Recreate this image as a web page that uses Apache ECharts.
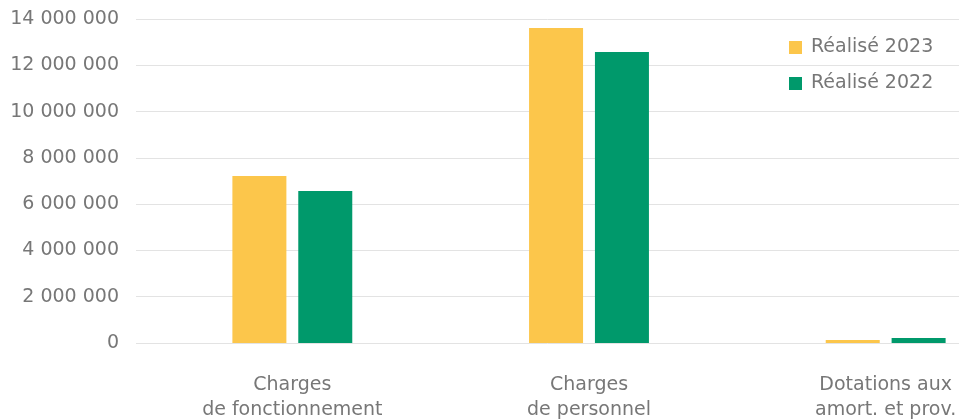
<!DOCTYPE html>
<html>
<head>
<meta charset="utf-8">
<script src="https://cdn.jsdelivr.net/npm/echarts@6/dist/echarts.min.js"></script>
<style>html,body{margin:0;padding:0;background:#fff;}#c{width:966px;height:420px;}</style>
</head>
<body>
<div id="c"></div>
<script>
const categories = ['Charges\nde fonctionnement', 'Charges\nde personnel', 'Dotations aux\namort. et prov.'];
const seriesNames = ['Réalisé 2023', 'Réalisé 2022'];
const values2023 = [7216000, 13610000, 130000];
const values2022 = [6568000, 12570000, 215000];
const yTicks = { min: 0, max: 14000000, interval: 2000000 };

const FONT = 'DejaVu Sans';
const TXT = '#777777';
function fmt(v) { return String(v).replace(/\B(?=(\d{3})+(?!\d))/g, ' '); }

const chart = echarts.init(document.getElementById('c'), null, { renderer: 'canvas' });
chart.setOption({
  animation: false,
  textStyle: { fontFamily: FONT },
  grid: [
    { left: 144, right: -68, top: 19, bottom: 77, containLabel: false, outerBoundsMode: 'none' },
    { left: 136, right: 7, top: 19, bottom: 77, containLabel: false, outerBoundsMode: 'none' }
  ],
  legend: {
    data: seriesNames,
    orient: 'vertical',
    left: 789, top: 38, padding: 0,
    icon: 'rect', itemWidth: 13, itemHeight: 13, itemGap: 17,
    textStyle: { fontFamily: FONT, fontSize: 19, color: TXT, padding: [0, 0, 0, 4] }
  },
  xAxis: [
    {
      type: 'category', gridIndex: 0, data: categories,
      axisLine: { show: false }, axisTick: { show: false },
      axisLabel: { fontFamily: FONT, fontSize: 19, color: TXT, lineHeight: 25, margin: 30, interval: 0 }
    },
    { type: 'category', gridIndex: 1, data: categories, show: false }
  ],
  yAxis: [
    {
      type: 'value', gridIndex: 0, min: yTicks.min, max: yTicks.max, interval: yTicks.interval,
      show: false, splitLine: { show: false }
    },
    {
      type: 'value', gridIndex: 1, min: yTicks.min, max: yTicks.max, interval: yTicks.interval,
      axisLine: { show: false }, axisTick: { show: false },
      axisLabel: { fontFamily: FONT, fontSize: 19, color: TXT, margin: 17, formatter: fmt },
      splitLine: { lineStyle: { color: '#e3e3e3', width: 1 } }
    }
  ],
  series: [
    { name: seriesNames[0], type: 'bar', xAxisIndex: 0, yAxisIndex: 0, data: values2023,
      barWidth: 54, barGap: '22%', itemStyle: { color: '#FCC64B' } },
    { name: seriesNames[1], type: 'bar', xAxisIndex: 0, yAxisIndex: 0, data: values2022,
      barWidth: 54, barGap: '22%', itemStyle: { color: '#00996B' } }
  ]
});
</script>
</body>
</html>
